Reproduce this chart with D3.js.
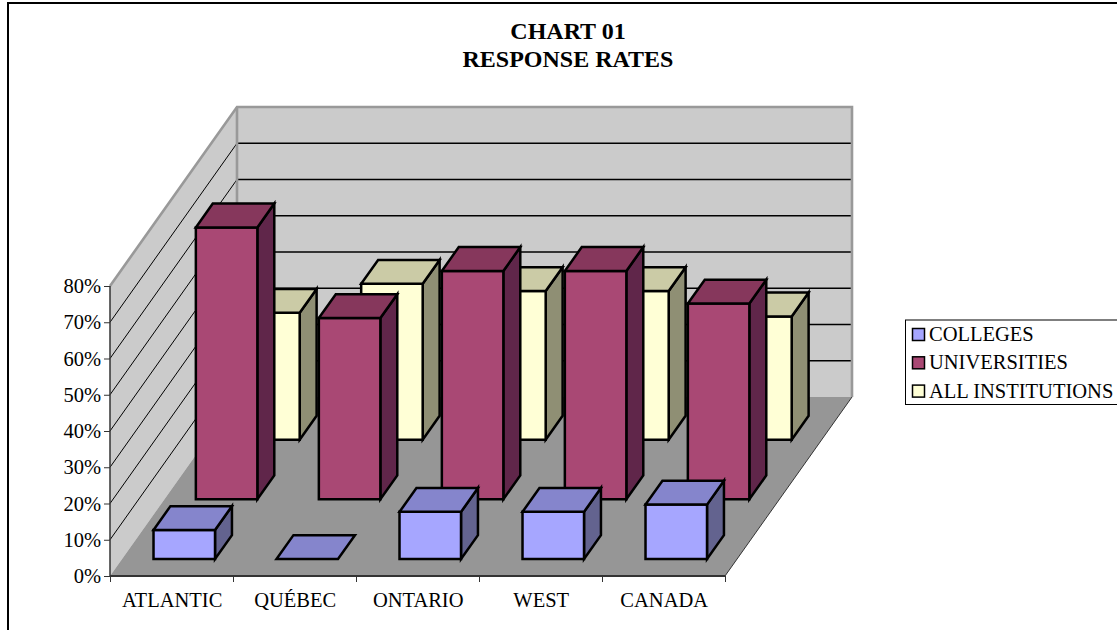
<!DOCTYPE html>
<html>
<head>
<meta charset="utf-8">
<style>
html, body { margin: 0; padding: 0; background: #fff; }
svg { display: block; }
text { font-family: "Liberation Serif", serif; fill: #000; }
.title { font-size: 24px; font-weight: bold; text-anchor: middle; }
.axis text { font-size: 20.5px; font-family: "Liberation Serif", serif; }
.legend text { font-size: 20.5px; }
</style>
<script src="https://cdn.jsdelivr.net/npm/d3@7"></script>
</head>
<body>
<svg width="1117" height="630"></svg>
<script>
var categories = ["ATLANTIC", "QUÉBEC", "ONTARIO", "WEST", "CANADA"];
var seriesNames = ["COLLEGES", "UNIVERSITIES", "ALL INSTITUTIONS"];
var colleges = [8, 0, 13, 13, 15];
var universities = [75, 50, 63, 63, 54];
var allInstitutions = [35, 43, 41, 41, 34];
var seriesValues = [colleges, universities, allInstitutions];
var yTicks = [0, 10, 20, 30, 40, 50, 60, 70, 80];
var titleLines = ["CHART 01", "RESPONSE RATES"];

// front, top, side shade for each series
var frontColors = ["#a6a6ff", "#a94874", "#ffffd6"];
var topColors = ["#8585cc", "#86375c", "#cbcba6"];
var sideColors = ["#63638f", "#60264a", "#8f8f74"];

var svg = d3.select("svg");

// page frame, cut off by the window on the right and bottom
svg.append("path").attr("d", "M8,630V3H1117").attr("fill", "none").attr("stroke", "#000").attr("stroke-width", 2);

svg.selectAll(".title").data(titleLines).enter().append("text")
    .attr("class", "title")
    .attr("x", 568)
    .attr("y", function(d, i) { return 39 + i * 28; })
    .text(function(d) { return d; });

var xEdge = d3.scaleLinear().domain([0, categories.length]).range([110, 725]);
var x = d3.scaleBand().domain(categories).range([110.7, 725.7]).paddingInner(0.5).paddingOuter(0.25);
var y = d3.scaleLinear().domain([0, 80]).range([576, 286]);
// depth into the picture: shifts a point right and up
var depthX = d3.scaleLinear().domain([0, 1]).range([0, 127]);
var depthY = d3.scaleLinear().domain([0, 1]).range([0, -179]);
var z = d3.scaleBand().domain(seriesNames).range([-0.005, 0.995]).paddingInner(0.6).paddingOuter(0.3);

function pt(px, py, d) {
  return [px + depthX(d), py + depthY(d)];
}
var line = d3.line();

var x0 = xEdge.range()[0], x1 = xEdge.range()[1];

// walls and floor
svg.append("path").attr("fill", "#cbcbcb")
    .attr("d", line([pt(x0, y(0), 0), pt(x0, y(0), 1), pt(x0, y(80), 1), pt(x0, y(80), 0)]) + "Z");
svg.append("path").attr("fill", "#cbcbcb")
    .attr("d", line([pt(x0, y(0), 1), pt(x1, y(0), 1), pt(x1, y(80), 1), pt(x0, y(80), 1)]) + "Z");
svg.append("path").attr("fill", "#969696")
    .attr("d", line([pt(x0, y(0), 0), pt(x1, y(0), 0), pt(x1, y(0), 1), pt(x0, y(0), 1)]) + "Z");

// gridlines
var grid = svg.append("g").attr("fill", "none");
yTicks.slice(1, -1).forEach(function(t) {
  grid.append("path").attr("stroke", "#000").attr("stroke-width", 1)
      .attr("d", line([pt(x0, y(t), 0), pt(x0, y(t), 1)]));
  grid.append("path").attr("stroke", "#000").attr("stroke-width", 1.4)
      .attr("d", line([pt(x0, y(t), 1), pt(x1, y(t), 1)]));
});

// wall edges
svg.append("path").attr("fill", "none").attr("stroke", "#999").attr("stroke-width", 2.6)
    .attr("d", line([pt(x0, y(80), 0), pt(x0, y(80), 1), pt(x1, y(80), 1), pt(x1, y(0), 1)]));
svg.append("path").attr("fill", "none").attr("stroke", "#999").attr("stroke-width", 2.6)
    .attr("d", line([pt(x0, y(80), 1), pt(x0, y(0), 1)]));
svg.append("path").attr("fill", "none").attr("stroke", "#333").attr("stroke-width", 1)
    .attr("d", line([pt(x1, y(0), 0), pt(x1, y(0), 1)]));

// bars, back row first
var rows = d3.range(seriesNames.length).reverse();
rows.forEach(function(s) {
  var name = seriesNames[s];
  var d0 = z(name), d1 = z(name) + z.bandwidth();
  var g = svg.append("g").attr("stroke", "#000").attr("stroke-width", 2.5).attr("stroke-linejoin", "miter");
  var bars = g.selectAll("g").data(seriesValues[s]).enter().append("g");

  bars.each(function(v, i) {
    var b = d3.select(this);
    var l = x(categories[i]), r = l + x.bandwidth();
    if (v > 0) {
      b.append("path").attr("fill", sideColors[s])
          .attr("d", line([pt(r, y(0), d0), pt(r, y(0), d1), pt(r, y(v), d1), pt(r, y(v), d0)]) + "Z");
      b.append("path").attr("fill", frontColors[s])
          .attr("d", line([pt(l, y(0), d0), pt(r, y(0), d0), pt(r, y(v), d0), pt(l, y(v), d0)]) + "Z");
    }
    b.append("path").attr("fill", topColors[s])
        .attr("d", line([pt(l, y(v), d0), pt(r, y(v), d0), pt(r, y(v), d1), pt(l, y(v), d1)]) + "Z");
  });
});

// axes
var yAxis = d3.axisLeft(y).tickValues(yTicks).tickSize(6).tickPadding(3).tickFormat(function(d) { return d + "%"; });
var yG = svg.append("g").attr("class", "axis").attr("transform", "translate(110,0)").call(yAxis);
yG.select(".domain").attr("stroke", "#333").attr("stroke-width", 1.5).attr("d", "M0," + y(80) + "V" + y(0));
yG.selectAll(".tick line").attr("stroke", "#333");

var xAxis = d3.axisBottom(x).tickSize(0).tickPadding(16);
var xG = svg.append("g").attr("class", "axis").attr("transform", "translate(0,576)").call(xAxis);
xG.select(".domain").attr("stroke", "#333").attr("stroke-width", 2).attr("d", "M" + x0 + ",0H" + x1);

var xTicks = d3.axisBottom(xEdge).ticks(categories.length).tickSize(6).tickFormat("");
var xtG = svg.append("g").attr("transform", "translate(0,576)").call(xTicks);
xtG.select(".domain").remove();
xtG.selectAll(".tick line").attr("stroke", "#333");

// legend
var legend = svg.append("g").attr("class", "legend");
legend.append("rect").attr("x", 905.5).attr("y", 320).attr("width", 230).attr("height", 84.5)
    .attr("fill", "#fff").attr("stroke", "#000").attr("stroke-width", 1);
var items = legend.selectAll("g").data(seriesNames).enter().append("g")
    .attr("transform", function(d, i) { return "translate(912," + (328 + i * 28.3) + ")"; });
items.append("rect").attr("x", 0.5).attr("y", 0.5).attr("width", 12).attr("height", 12)
    .attr("stroke", "#000").attr("stroke-width", 1.5)
    .attr("fill", function(d, i) { return frontColors[i]; });
items.append("text").attr("x", 17).attr("y", 13).text(function(d) { return d; });
</script>
</body>
</html>
